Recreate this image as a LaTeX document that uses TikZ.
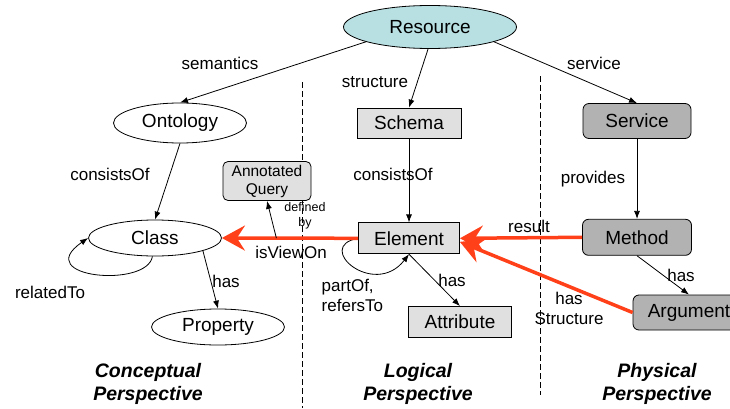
\documentclass[tikz,border=0pt]{standalone}
\usepackage{fontspec}
\setmainfont{Liberation Sans}
\usetikzlibrary{arrows.meta}
\usetikzlibrary{shapes.geometric, positioning}
\definecolor{resfill}{RGB}{184,224,227}
\definecolor{lightfill}{RGB}{224,224,224}
\definecolor{darkfill}{RGB}{178,178,178}
\definecolor{viewred}{RGB}{255,64,25}

\begin{document}
\begin{tikzpicture}[x=1pt, y=1pt, line width=0.8pt, >={Latex[length=8pt,width=6pt]},
	big/.style={font=\fontsize{19}{21}\selectfont},
	ell/.style={draw, ellipse, inner sep=0pt, big},
	box/.style={draw, rectangle, inner sep=0pt, fill=lightfill, big},
	rbox/.style={draw, rounded corners=6pt, inner sep=0pt, fill=darkfill, big},
	lbl/.style={font=\fontsize{17}{20}\selectfont},
	persp/.style={font=\fontsize{19.5}{23}\selectfont\bfseries\itshape, align=center},
	red arrow/.style={draw=viewred, line width=3.5pt, -{Stealth[length=23pt,width=25pt,inset=8pt]}},
	sep/.style={dash pattern=on 6pt off 3pt, line width=0.7pt}]
			\useasboundingbox (0,0) rectangle (730,408);
			
			% separators
			\draw[sep] (302,326) -- (302,0);
			\draw[sep] (540,332) -- (540,13);
			
			\node[ell, fill=resfill, minimum width=173pt, minimum height=43pt] (resource) at (430,381) {Resource};
			\node[ell, minimum width=133pt, minimum height=40pt] (ontology) at (180,285) {Ontology};
			\node[box, minimum width=104pt, minimum height=30pt] (schema) at (409,285) {Schema};
			\node[rbox, minimum width=108pt, minimum height=35pt] (service) at (637,287) {Service};
			
			\node[ell, minimum width=133pt, minimum height=36pt] (class) at (155,170) {Class};
			\node[box, minimum width=101pt, minimum height=31pt] (element) [below = 84pt of schema] {Element};
			\node[rbox, minimum width=109pt, minimum height=36pt] (method) [below = 80pt of service] {Method};
			\node[box, rounded corners=5pt, align=center, minimum width=88pt, minimum height=39pt,
				font=\fontsize{15.5}{18}\selectfont] (query) at (267,227) {Annotated\\Query};
			
			\node[ell, minimum width=133pt, minimum height=36pt] (property) at (218,81) {Property};
			\node[box, minimum width=103pt, minimum height=31pt] (attribute) at (460,86) {Attribute};
			\node[rbox, minimum width=112pt, minimum height=35pt] (argument) at (689,95.5) {Argument};
			
			% labels
			\node[lbl] (lsem) at (220,345) {semantics};
			\node[lbl] (lstruct) at (375,326) {structure};
			\node[lbl] (lserv) at (594,345) {service};
			\node[lbl] (lcons1) at (110,234) {consistsOf};
			\node[lbl] (lcons2) at (393,234) {consistsOf};
			\node[lbl] (lprov) at (593,229) {provides};
			\node[font=\fontsize{12.5}{15}\selectfont, align=center] (ldef) at (305,192) {defined\\by};
			\node[lbl] (lview) at (291,156) {isViewOn};
			\node[lbl] (lres) at (529,182) {result};
			\node[lbl] (lrel) at (50,116) {relatedTo};
			\node[lbl] (lhas1) at (226,127) {has};
			\node[lbl, align=left, anchor=west] (lpart) at (318,113) {partOf,\\refersTo};
			\node[lbl] (lhas2) at (452,128) {has};
			\node[lbl] (lhas3) at (681,133) {has};
			\node[lbl, align=center] (lhasstr) at (569,100) {has\\Structure};
			
			\node[persp] (pcon) at (148,24) {Conceptual\\Perspective};
			\node[persp] (plog) at (418,24) {Logical\\Perspective};
			\node[persp] (pphy) at (657,24) {Physical\\Perspective};
			
			\draw[->] (resource.193) -- (ontology.north);
			\draw[->] (resource.265) -- (schema.north);
			\draw[->] (resource.-13) -- (service.north);
			
			\draw[->] (ontology.south) -- (class.north);
			\draw[->] (schema) -- (element);
			\draw[->] (service) -- (method);
			
			\draw[->] (class.262) .. controls +(-5,-32) and +(-58,-40) .. (class.west);
			\draw[->] (class.-15) -- (property.north);
			
			\draw[->] (element.west) .. controls +(-45,-8) and +(-35,-45) .. (element.south);
			\draw[->] (element.south) -- (attribute.north);
			\draw[->] (method.south) -- (argument.north);
			
			\draw[red arrow] (element.west) -- (class.east) coordinate[pos=0.6] (dby);
			\draw[->] (dby) -- (query.south);
			\draw[red arrow] (method.west) -- (element.east);
			\draw[red arrow] (argument.west) -- (element.-4);
\end{tikzpicture}
\end{document}
